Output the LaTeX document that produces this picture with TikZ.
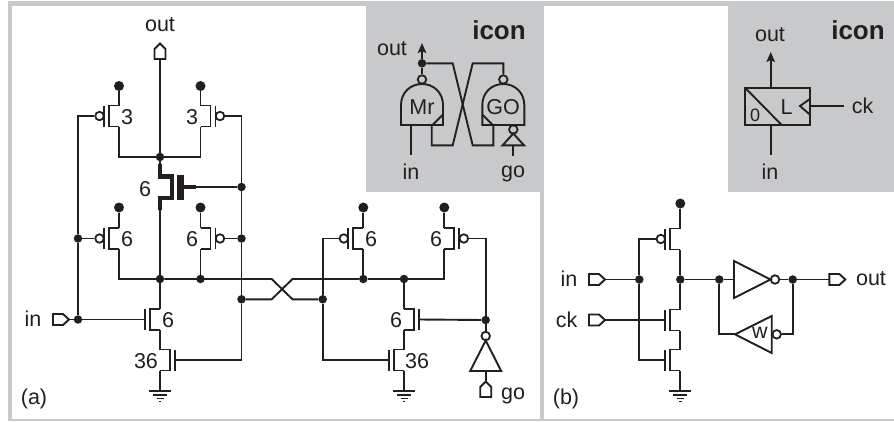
\documentclass[tikz,border=0pt]{standalone}
\usepackage{fontspec}
\setmainfont{Liberation Sans}
\usetikzlibrary{arrows.meta}
\definecolor{panelgray}{HTML}{C8C9CB}
\definecolor{ink}{HTML}{231F20}
\tikzset{
	wire/.style={draw=ink,line width=1.9pt,line join=miter},
	heavy/.style={draw=ink,line width=4.8pt,line join=miter},
	dot/.style={circle,fill=ink,inner sep=0pt,minimum size=8.5pt},
	rail/.style={circle,fill=ink,inner sep=0pt,minimum size=10pt},
	bub/.style={circle,draw=ink,line width=1.8pt,inner sep=0pt,minimum size=8.5pt},
	lbl/.style={inner sep=0pt,text=ink,font=\fontsize{21.5}{24}\selectfont},
	small/.style={inner sep=0pt,text=ink,font=\fontsize{18}{20}\selectfont},
	head/.style={inner sep=0pt,text=ink,font=\fontsize{26}{28}\selectfont\bfseries},
	tip/.style={-{Stealth[length=10pt,width=8.5pt,inset=2pt]}}
}
% name, x, y, side
\newcommand{\fet}[4]{
	\coordinate (#1t) at (#2,#3-10.5);
	\coordinate (#1b) at (#2,#3+10.5);
	\coordinate (#1g) at (#2+#4*15,#3);
	\draw[wire] (#1t) to (#2+#4*10,#3-10.5) to (#2+#4*10,#3+10.5) to (#1b);
	\draw[wire] (#2+#4*15,#3-10.5) to (#2+#4*15,#3+10.5);
}
\newcommand{\pfet}[4]{
	\fet{#1}{#2}{#3}{#4}
	\node[bub] (#1c) at (#2+#4*19.5,#3) {};
}
% name, x, y
\newcommand{\gnd}[3]{
	\coordinate (#1) at (#2,#3);
	\draw[wire] (#2-11,#3) to (#2+11,#3);
	\draw[draw=ink,line width=1.2pt] (#2-7,#3+4) to (#2+7,#3+4);
	\draw[draw=ink,line width=1.2pt] (#2-3.5,#3+7.5) to (#2+3.5,#3+7.5);
	\draw[draw=ink,line width=1.2pt] (#2-1.2,#3+10.5) to (#2+1.2,#3+10.5);
}
% name, x of the flat end, y
\newcommand{\pinr}[3]{
	\coordinate (#1a) at (#2,#3);
	\coordinate (#1b) at (#2+16,#3);
	\draw[wire] (#1a) ++(0,-5.5) to ++(10,0) to (#1b) to (#2+10,#3+5.5) to (#2,#3+5.5) to cycle;
}
% name, x, y of the flat end
\newcommand{\pinu}[3]{
	\coordinate (#1a) at (#2,#3);
	\coordinate (#1b) at (#2,#3-15.5);
	\draw[wire] (#1a) ++(-5.5,0) to ++(0,-10) to (#1b) to (#2+5.5,#3-10) to (#2+5.5,#3) to cycle;
}
\begin{document}
\begin{tikzpicture}[x=1pt,y=-1pt]
	\useasboundingbox (0,0) rectangle (894,421);
	% panels
	\fill[panelgray] (8,1) rectangle (894,421);
	\fill[white] (12,6) rectangle (539.5,419);
	\fill[white] (543.5,6) rectangle (894,419);
	\fill[panelgray] (366,6) rectangle (543.5,192);
	\fill[panelgray] (728,6) rectangle (894,192);
	\node[lbl] (tagA) at (34,399) {(a)};
	\node[lbl] (tagB) at (566,399) {(b)};

	% (a) transistors
	\pfet{pa}{119}{116}{-1}
	\pfet{pb}{200.5}{116}{1}
	\pfet{pc}{119}{238.5}{-1}
	\pfet{pd}{200.5}{238.5}{1}
	\pfet{pe}{363.3}{238.5}{-1}
	\pfet{pf}{444.3}{238.5}{1}
	\fet{na}{160}{319.5}{-1}
	\fet{nb}{160}{360}{1}
	\fet{nc}{404}{319.5}{1}
	\fet{nd}{404}{360}{-1}
	\gnd{ga}{160}{391}
	\gnd{gb}{404}{391}

	% (a) pass transistor
	\coordinate (ht) at (160,164);
	\coordinate (hb) at (160,210);
	\coordinate (hg) at (196,187);
	\draw[heavy] (ht) to (160,176.5) to (172,176.5) to (172,198) to (160,198) to (hb);
	\draw[heavy,line width=7pt] (180,174.5) to (180,200);
	\draw[heavy] (180,187) to (hg);

	% (a) dots
	\node[dot] (top) at (160,157) {};
	\node[dot] (mid) at (160,279) {};
	\node[dot] (midb) at (200.5,279) {};
	\node[dot] (midc) at (363.3,279) {};
	\node[dot] (midd) at (404,279) {};
	\node[dot] (inj) at (78,319.5) {};
	\node[dot] (lj) at (78,238.5) {};
	\node[dot] (rj) at (241.5,238.5) {};
	\node[dot] (rk) at (241.5,187) {};
	\node[dot] (rl) at (241.5,299.3) {};
	\node[dot] (xj) at (322.7,299.3) {};
	\node[dot] (goj) at (485.7,320) {};
	\node[rail] (va) at (119,86) {};
	\node[rail] (vb) at (200.5,86) {};
	\node[rail] (vc) at (119,207.5) {};
	\node[rail] (vd) at (200.5,207.5) {};
	\node[rail] (ve) at (363.3,207.5) {};
	\node[rail] (vf) at (444.3,207.5) {};

	% (a) pins
	\pinu{outa}{160}{59}
	\pinr{ina}{53}{319.5}
	\pinu{goa}{485.7}{397}

	% (a) wires
	\draw[wire] (outaa) to (top);
	\draw[wire] (va) to (pat);
	\draw[wire] (vb) to (pbt);
	\draw[wire] (vc) to (pct);
	\draw[wire] (vd) to (pdt);
	\draw[wire] (ve) to (pet);
	\draw[wire] (vf) to (pft);
	\draw[wire] (pab) to (119,157) to (top);
	\draw[wire] (pbb) to (200.5,157) to (top);
	\draw[wire] (top) to (ht);
	\draw[wire] (hb) to (mid);
	\draw[wire] (hg) to (rk);
	\draw[wire] (pac) to (78,116) to (lj);
	\draw[wire] (lj) to (inj);
	\draw[wire] (lj) to (pcc);
	\draw[wire] (pbc) to (241.5,116) to (rk);
	\draw[wire] (rk) to (rj);
	\draw[wire] (rj) to (pdc);
	\draw[wire] (rj) to (rl);
	\draw[wire] (rl) to (241.5,360) to (nbg);
	\draw[wire] (pcb) to (119,279) to (mid);
	\draw[wire] (pdb) to (midb);
	\draw[wire] (mid) to (271.7,279) to (292.5,299.3) to (xj);
	\draw[wire] (rl) to (271.7,299.3) to (292.5,279) to (midc);
	\draw[wire] (midc) to (midd);
	\draw[wire] (midd) to (444.3,279) to (pfb);
	\draw[wire] (peb) to (midc);
	\draw[wire] (mid) to (nat);
	\draw[wire] (nab) to (nbt);
	\draw[wire] (nbb) to (ga);
	\draw[wire] (midd) to (nct);
	\draw[wire] (ncb) to (ndt);
	\draw[wire] (ndb) to (gb);
	\draw[wire] (inab) to (inj);
	\draw[wire] (inj) to (nag);
	\draw[wire] (pec) to (322.7,238.5) to (xj);
	\draw[wire] (xj) to (322.7,360) to (ndg);
	\draw[wire] (pfc) to (485.7,238.5) to (goj);
	\draw[wire] (goj) to (ncg);

	% (a) inverter on go
	\node[bub] (gob) at (485.7,336) {};
	\coordinate (goin) at (485.7,371);
	\draw[wire] (485.7,340.5) to (501.2,371) to (470.2,371) to cycle;
	\draw[wire] (goj) to (gob);
	\draw[wire] (goin) to (goab);

	% (a) labels
	\node[lbl] (outla) at (160,25) {out};
	\node[lbl] (inla) at (33,319) {in};
	\node[lbl] (gola) at (513,396) {go};
	\node[lbl] (wa) at (127,117) {3};
	\node[lbl] (wb) at (192,117) {3};
	\node[lbl] (wh) at (145,189) {6};
	\node[lbl] (wc) at (127,239) {6};
	\node[lbl] (wd) at (192,239) {6};
	\node[lbl] (we) at (371,239) {6};
	\node[lbl] (wf) at (436,239) {6};
	\node[lbl] (wn) at (168,320) {6};
	\node[lbl] (wm) at (146,361) {36};
	\node[lbl] (wp) at (396,320) {6};
	\node[lbl] (wq) at (417,361) {36};

	% (a) icon
	\node[head] (icona) at (499,30) {icon};
	\node[lbl] (outic) at (392,49) {out};
	\node[lbl] (inic) at (411,172) {in};
	\node[lbl] (goic) at (513,174) {go};
	\draw[wire] (401,125) to (401,105) .. controls (401,93) and (410,84) .. (422,84) .. controls (434,84) and (443,93) .. (443,105) to (443,125) to cycle;
	\draw[wire] (482.3,125) to (482.3,105) .. controls (482.3,93) and (491.3,84) .. (503.3,84) .. controls (515.3,84) and (524.3,93) .. (524.3,105) to (524.3,125) to cycle;
	\draw[wire] (443,114.5) to (432.5,125);
	\draw[wire] (482.3,114.5) to (492.8,125);
	\node[lbl] (mr) at (422,107) {Mr};
	\node[lbl] (go) at (503,107) {GO};
	\node[bub] (mrb) at (422,79.5) {};
	\node[bub] (gob2) at (503.3,79.5) {};
	\node[bub] (gob3) at (513.3,129.5) {};
	\node[dot] (icj) at (422,63.3) {};
	\coordinate (arra) at (422,43);
	\coordinate (ina2) at (411.3,155);
	\coordinate (gos) at (513.3,156);
	\draw[wire,tip] (icj) to (arra);
	\draw[wire] (icj) to (mrb);
	\draw[wire] (gob2) to (503.3,63.3) to (472.7,63.3) to (452.7,145.3) to (431.7,145.3) to (431.7,125);
	\draw[wire] (icj) to (452.7,63.3) to (472.7,145.3) to (493.3,145.3) to (493.3,125);
	\draw[wire] (411.3,125) to (ina2);
	\draw[wire] (513.3,133.5) to (524,145.3) to (502.6,145.3) to cycle;
	\draw[wire] (513.3,145.3) to (gos);

	% (b) transistors
	\pfet{pl}{680.3}{239}{-1}
	\fet{nl}{680.3}{320}{-1}
	\fet{nm}{680.3}{360}{-1}
	\gnd{gc}{680.3}{391}
	\node[rail] (vl) at (680.3,203.5) {};
	\node[dot] (dl) at (639.3,279.5) {};
	\node[dot] (ql) at (680.3,279.5) {};
	\node[dot] (qm) at (719.3,279.5) {};
	\node[dot] (qn) at (792.7,279.5) {};
	\pinr{inb}{589}{279.5}
	\pinr{ckb}{589}{320}
	\pinr{outb}{829.3}{279.5}
	\draw[wire] (vl) to (plt);
	\draw[wire] (plb) to (ql);
	\draw[wire] (ql) to (nlt);
	\draw[wire] (nlb) to (nmt);
	\draw[wire] (nmb) to (gc);
	\draw[wire] (plc) to (639.3,239) to (dl);
	\draw[wire] (dl) to (639.3,360) to (nmg);
	\draw[wire] (inbb) to (dl);
	\draw[wire] (ckbb) to (nlg);
	\draw[wire] (ql) to (qm);

	% (b) keeper
	\coordinate (fwd) at (734,279.5);
	\coordinate (bck) at (735,334.3);
	\node[bub] (fwb) at (775,279.5) {};
	\node[bub] (bkb) at (776.7,334.3) {};
	\draw[wire] (fwd) ++(0,-18.5) to (770.5,279.5) to (734,298) to cycle;
	\draw[wire] (bck) to (771.7,316) to (771.7,353) to cycle;
	\draw[wire] (qm) to (fwd);
	\draw[wire] (fwb) to (qn);
	\draw[wire] (qn) to (outba);
	\draw[wire] (qm) to (719.3,334.3) to (bck);
	\draw[wire] (bkb) to (792.7,334.3) to (qn);
	\node[lbl] (wk) at (760,333) {w};

	% (b) labels
	\node[lbl] (inlb) at (569,279) {in};
	\node[lbl] (cklb) at (566.7,320) {ck};
	\node[lbl] (outlb) at (871,279) {out};

	% (b) icon
	\node[head] (iconb) at (858,30) {icon};
	\node[lbl] (outid) at (770,35) {out};
	\node[lbl] (inid) at (770,172) {in};
	\node[lbl] (ckid) at (862.7,106) {ck};
	\draw[wire] (745,87.7) rectangle (810.3,125);
	\draw[wire] (745,87.7) to (781.7,125);
	\draw[wire] (810.3,98.7) to (800,106) to (810.3,115);
	\node[lbl] (latl) at (786.7,107) {L};
	\node[small] (zero) at (755,115) {0};
	\coordinate (ltop) at (770.7,87.7);
	\coordinate (lbot) at (770.7,125);
	\coordinate (lclk) at (810.3,106);
	\coordinate (arrb) at (770.7,52);
	\coordinate (ins) at (770.7,155);
	\coordinate (cks) at (843.7,106);
	\draw[wire,tip] (ltop) to (arrb);
	\draw[wire] (lbot) to (ins);
	\draw[wire] (lclk) to (cks);
\end{tikzpicture}
\end{document}
